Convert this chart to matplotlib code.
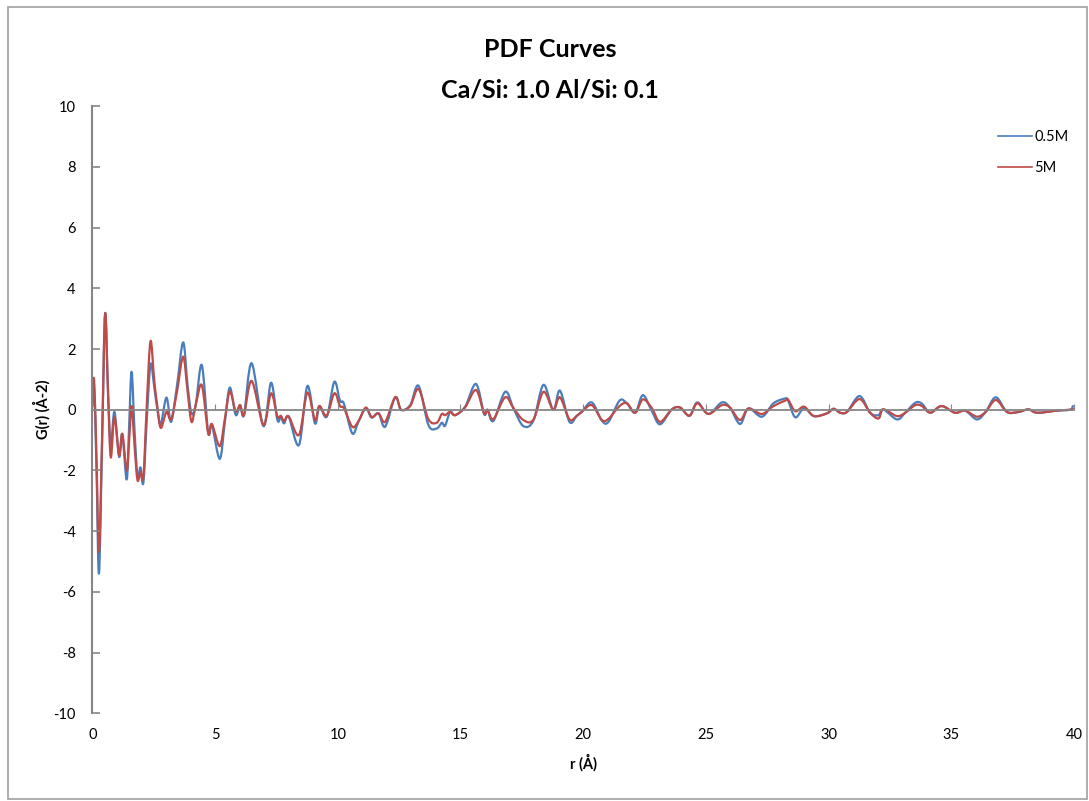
import numpy as np
import matplotlib.pyplot as plt
from matplotlib.patches import Rectangle, PathPatch
from matplotlib.path import Path

plt.rcParams['font.family'] = ['Lato', 'DejaVu Sans']
plt.rcParams['axes.unicode_minus'] = False

# r (Angstrom) and G(r) for the two samples
r = [0.00, 0.07, 0.17, 0.27, 0.40, 0.52, 0.64, 0.75, 0.90, 1.09,
     1.22, 1.40, 1.50, 1.60, 1.72, 1.84, 1.96, 2.08, 2.22, 2.37,
     2.52, 2.65, 2.79, 3.02, 3.21, 3.45, 3.70, 3.88, 4.04, 4.21,
     4.46, 4.72, 4.87, 5.19, 5.40, 5.60, 5.84, 6.02, 6.18, 6.49,
     6.97, 7.28, 7.54, 7.68, 7.81, 8.00, 8.42, 8.76, 9.07, 9.25,
     9.55, 9.86, 10.09, 10.25, 10.59, 10.84, 11.14, 11.38, 11.66, 11.93,
     12.34, 12.58, 12.95, 13.29, 13.69, 14.03, 14.24, 14.37, 14.58, 14.78,
     15.19, 15.63, 15.96, 16.10, 16.34, 16.82, 17.16, 17.56, 17.97, 18.38,
     18.78, 19.05, 19.44, 19.74, 19.94, 20.35, 20.76, 21.03, 21.48, 21.78,
     22.12, 22.43, 22.80, 23.13, 23.61, 23.95, 24.33, 24.65, 25.10, 25.65,
     25.98, 26.39, 26.73, 27.28, 27.75, 28.23, 28.35, 28.64, 29.00, 29.40,
     29.93, 30.20, 30.47, 30.75, 31.26, 31.69, 32.03, 32.23, 32.78, 33.12,
     33.53, 33.80, 34.14, 34.60, 35.15, 35.56, 36.04, 36.40, 36.81, 37.26,
     37.70, 38.14, 38.50, 39.30, 39.84, 39.95]

g_05M = [0.10, 0.80, -2.00, -5.39, -1.00, 3.17, 0.60, -1.16, -0.07, -1.55,
         -0.80, -2.30, -0.50, 1.25, -0.70, -2.20, -1.90, -2.40, -0.30, 1.50,
         0.76, 0.00, -0.47, 0.40, -0.40, 0.80, 2.22, 0.80, -0.12, 0.15,
         1.47, -0.75, -0.50, -1.62, -0.40, 0.73, -0.17, 0.15, -0.17, 1.53,
         -0.54, 0.89, -0.34, -0.23, -0.45, -0.23, -1.16, 0.78, -0.45, 0.12,
         -0.23, 0.92, 0.29, 0.20, -0.78, -0.40, 0.04, -0.26, -0.12, -0.56,
         0.41, 0.00, 0.15, 0.79, -0.50, -0.62, -0.43, -0.53, -0.07, -0.18,
         0.10, 0.85, -0.14, -0.01, -0.37, 0.59, 0.04, -0.54, -0.36, 0.82,
         -0.01, 0.63, -0.40, -0.20, -0.07, 0.24, -0.36, -0.40, 0.30, 0.21,
         -0.10, 0.48, -0.05, -0.48, 0.01, 0.07, -0.20, 0.24, -0.14, 0.24,
         0.07, -0.47, 0.04, -0.23, 0.21, 0.37, 0.30, -0.25, 0.05, -0.21,
         -0.12, 0.03, -0.10, -0.07, 0.45, -0.10, -0.18, 0.01, -0.32, -0.10,
         0.23, 0.20, -0.10, 0.12, -0.10, -0.03, -0.32, -0.07, 0.41, -0.07,
         -0.08, 0.01, -0.10, -0.03, 0.00, 0.12]

g_5M = [0.20, 1.00, -1.60, -4.68, -0.80, 3.17, 0.50, -1.57, -0.23, -1.50,
        -0.80, -2.00, -1.00, 0.12, -1.20, -2.32, -2.05, -2.20, 0.20, 2.26,
        0.98, 0.10, -0.60, -0.07, -0.32, 0.60, 1.75, 0.60, -0.40, 0.15,
        0.81, -0.78, -0.47, -1.20, -0.30, 0.60, -0.05, 0.15, -0.17, 0.95,
        -0.50, 0.54, -0.23, -0.20, -0.38, -0.22, -0.83, 0.56, -0.34, 0.12,
        -0.20, 0.54, 0.12, 0.05, -0.56, -0.38, 0.07, -0.24, -0.12, -0.40,
        0.41, 0.00, 0.12, 0.68, -0.31, -0.43, -0.14, -0.18, -0.07, -0.18,
        0.08, 0.65, -0.12, 0.00, -0.31, 0.41, 0.05, -0.34, -0.33, 0.59,
        0.00, 0.41, -0.32, -0.20, -0.07, 0.15, -0.34, -0.30, 0.12, 0.21,
        -0.10, 0.34, 0.05, -0.40, 0.01, 0.07, -0.20, 0.21, -0.14, 0.15,
        0.07, -0.34, 0.04, -0.14, 0.12, 0.30, 0.33, -0.05, 0.10, -0.21,
        -0.12, 0.03, -0.10, -0.07, 0.35, -0.10, -0.29, 0.01, -0.21, -0.10,
        0.15, 0.12, -0.10, 0.12, -0.10, -0.03, -0.23, -0.07, 0.32, -0.07,
        -0.08, 0.01, -0.10, -0.03, 0.00, 0.03]

x_ticks = list(range(0, 41, 5))
y_ticks = list(range(-10, 11, 2))

grey = '#868686'
blue = '#4a7ebb'
red = '#be4b48'


def smoothed(x, y, t=1 / 6):
    # spreadsheet style "smoothed line": bezier segments through every point
    x, y = np.asarray(x, float), np.asarray(y, float)
    n = len(x)
    verts = [(x[0], y[0])]
    codes = [Path.MOVETO]
    for i in range(n - 1):
        a = max(i - 1, 0)
        b = min(i + 2, n - 1)
        verts.append((x[i] + (x[i + 1] - x[a]) * t, y[i] + (y[i + 1] - y[a]) * t))
        verts.append((x[i + 1] - (x[b] - x[i]) * t, y[i + 1] - (y[b] - y[i]) * t))
        verts.append((x[i + 1], y[i + 1]))
        codes += [Path.CURVE4] * 3
    return Path(verts, codes)


fig = plt.figure(figsize=(10.89, 8.01), dpi=100)
ax = fig.add_axes([0.0848, 0.1096, 0.9015, 0.7578])

for g, c, name in [(g_05M, blue, '0.5M'), (g_5M, red, '5M')]:
    ax.add_patch(PathPatch(smoothed(r, g), fill=False, edgecolor=c, lw=1.6,
                           joinstyle='round', capstyle='round'))
    ax.plot([], [], color=c, lw=1.2, label=name)

ax.set_xlim(0, 40)
ax.set_ylim(-10, 10)

# x axis line crosses at zero, labels stay at the bottom
for s in ['top', 'right']:
    ax.spines[s].set_visible(False)
ax.spines['bottom'].set_position(('data', 0))
ax.spines['bottom'].set_color(grey)
ax.spines['bottom'].set_linewidth(1.3)
ax.spines['left'].set_color(grey)
ax.spines['left'].set_linewidth(1.5)
ax.set_xticks(x_ticks)
ax.tick_params(axis='x', direction='in', length=4, color=grey, labelbottom=False)
ax.set_yticks(y_ticks)
ax.tick_params(axis='y', direction='in', length=6, color=grey, width=1.2,
               labelsize=10.5, pad=12)

sec = ax.secondary_xaxis('bottom')
sec.spines['bottom'].set_visible(False)
sec.set_xticks(x_ticks)
sec.tick_params(length=0, labelsize=10.5, pad=11)
sec.set_xlabel('r (Å)', fontsize=10.5, fontweight='bold', labelpad=8)

ax.set_ylabel('G(r) (Å-2)', fontsize=10.5, fontweight='bold', labelpad=2)

ax.legend(loc='upper left', bbox_to_anchor=(985 / 1089, 1 - 117 / 801),
          bbox_transform=fig.transFigure, frameon=False, fontsize=10.5,
          handlelength=2.3, handletextpad=0.2, labelspacing=1.15)

fig.text(550 / 1089, 1 - 57 / 801, 'PDF Curves', ha='center', va='baseline',
         fontsize=18, fontweight='bold')
fig.text(550 / 1089, 1 - 98 / 801, 'Ca/Si: 1.0 Al/Si: 0.1', ha='center',
         va='baseline', fontsize=18, fontweight='bold')

fig.patches.append(Rectangle((7.5 / 1089, 2 / 801), 1079.5 / 1089, 792 / 801,
                             transform=fig.transFigure, fill=False,
                             edgecolor='#a0a0a0', lw=1.2))

fig.savefig('out.png', dpi=100)
